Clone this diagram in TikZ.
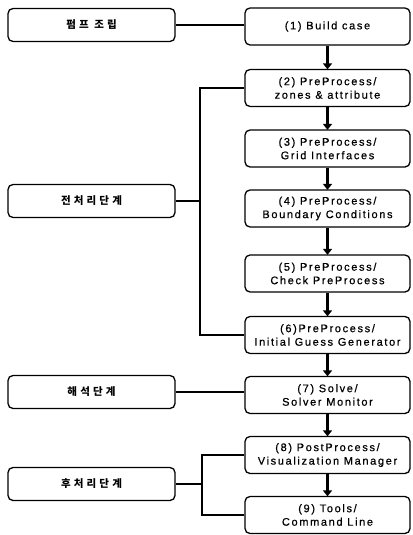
\documentclass[tikz,border=0pt]{standalone}
\usepackage{fontspec}
\setmainfont{Liberation Sans}[LetterSpace=15,FakeBold=0.6]
\newfontfamily\kr{Noto Sans CJK KR}[LetterSpace=30]
\usetikzlibrary{arrows.meta}
\begin{document}
\begin{tikzpicture}[x=1pt,y=-1pt,
 rbox/.style={draw, line width=1.3pt, rounded corners=5pt, minimum width=165pt, minimum height=37pt, align=center, inner sep=0pt, font=\fontsize{11}{13.5}\selectfont},
 lbox/.style={draw, line width=1.3pt, rounded corners=5pt, minimum width=167pt, minimum height=33pt, inner sep=0pt, font=\kr\bfseries\fontsize{10.5}{12}\selectfont},
 link/.style={line width=2pt},
 flow/.style={line width=3.5pt, -{Triangle[length=6pt,width=9pt]}, shorten >=-0.5pt}
]
\useasboundingbox (0,0) rectangle (412,535);
\node[rbox] (b1) at (327.5,26.5) {(1) Build case};
\node[rbox] (b2) at (327.5,88) {(2) PreProcess/\\zones \& attribute};
\node[rbox] (b3) at (327.5,148.5) {(3) PreProcess/\\Grid Interfaces};
\node[rbox] (b4) at (327.5,208.5) {(4) PreProcess/\\Boundary Conditions};
\node[rbox] (b5) at (327.5,273.5) {(5) PreProcess/\\Check PreProcess};
\node[rbox] (b6) at (327.5,335) {(6)PreProcess/\\Initial Guess Generator};
\node[rbox] (b7) at (327.5,395) {(7) Solve/\\Solver Monitor};
\node[rbox] (b8) at (327.5,455) {(8) PostProcess/\\Visualization Manager};
\node[rbox] (b9) at (327.5,515) {(9) Tools/\\Command Line};

\node[lbox] (l1) at (91.5,25) {펌프 조립};
\node[lbox] (l2) at (91.5,201) {전처리단계};
\node[lbox] (l3) at (91.5,392) {해석단계};
\node[lbox] (l4) at (91.5,484) {후처리단계};

\coordinate (busA) at (200,0);
\coordinate (busB) at (202,0);

\draw[link] (l1.east) -- (b1.west |- l1.east);
\draw[link] (l2.east) -- (l2.east -| busA);
\draw[link] (b2.west) -- (b2.west -| busA) -- (b6.west -| busA) -- (b6.west);
\draw[link] (l3.east) -- (b7.west |- l3.east);
\draw[link] (l4.east) -- (l4.east -| busB);
\draw[link] (b8.west) -- (b8.west -| busB) -- (b9.west -| busB) -- (b9.west);

\foreach \a/\b in {b1/b2,b2/b3,b3/b4,b4/b5,b5/b6,b6/b7,b7/b8,b8/b9}
  \draw[flow] (\a.south) -- (\b.north);
\end{tikzpicture}
\end{document}
